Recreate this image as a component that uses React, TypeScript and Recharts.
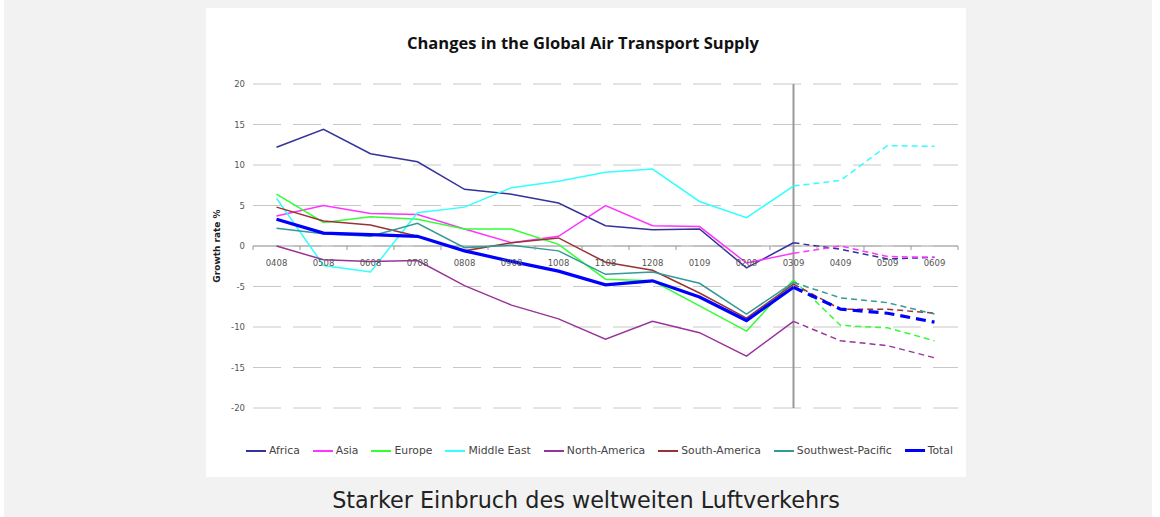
import {
    LineChart,
    Line,
    XAxis,
    YAxis,
    CartesianGrid,
    ReferenceLine,
    Legend,
    Label
} from "recharts";

// months on the category axis, 0309 is the last actual value, rest is forecast
const months = ["0408", "0508", "0608", "0708", "0808", "0908", "1008", "1108", "1208", "0109", "0209", "0309", "0409", "0509", "0609"];
const splitMonth = "0309";
const yTicks = [-20, -15, -10, -5, 0, 5, 10, 15, 20];

const africa = [12.2, 14.4, 11.4, 10.4, 7.0, 6.4, 5.3, 2.5, 2.0, 2.1, -2.7, 0.4, -0.4, -1.6, -1.4];
const asia = [3.7, 5.0, 4.0, 3.9, 2.1, 0.4, 1.2, 5.0, 2.5, 2.4, -2.1, -0.9, 0.0, -1.3, -1.4];
const europe = [6.4, 2.9, 3.6, 3.3, 2.1, 2.1, 0.2, -4.1, -4.3, -7.4, -10.5, -4.2, -9.8, -10.1, -11.7];
const middleEast = [5.9, -2.4, -3.2, 4.1, 4.8, 7.2, 8.0, 9.1, 9.5, 5.5, 3.5, 7.4, 8.1, 12.4, 12.3];
const northAmerica = [0.0, -1.7, -1.9, -1.8, -4.9, -7.3, -9.0, -11.5, -9.3, -10.7, -13.6, -9.3, -11.7, -12.3, -13.8];
const southAmerica = [4.8, 3.1, 2.6, 1.2, -0.6, 0.4, 1.0, -2.0, -3.0, -5.8, -8.9, -4.7, -7.8, -7.8, -8.3];
const swPacific = [2.2, 1.5, 1.2, 2.8, -0.2, 0.1, -0.6, -3.5, -3.2, -4.6, -8.4, -4.5, -6.4, -7.0, -8.4];
const total = [3.3, 1.6, 1.4, 1.2, -0.6, -1.9, -3.1, -4.8, -4.3, -6.3, -9.2, -5.1, -7.8, -8.3, -9.4];

const series = [
    {key: "africa", name: "Africa", values: africa, color: "#333399", width: 1.5},
    {key: "asia", name: "Asia", values: asia, color: "#ff33ff", width: 1.5},
    {key: "europe", name: "Europe", values: europe, color: "#33ff33", width: 1.5},
    {key: "middleEast", name: "Middle East", values: middleEast, color: "#33ffff", width: 1.5},
    {key: "northAmerica", name: "North-America", values: northAmerica, color: "#993399", width: 1.5},
    {key: "southAmerica", name: "South-America", values: southAmerica, color: "#993333", width: 1.5},
    {key: "swPacific", name: "Southwest-Pacific", values: swPacific, color: "#339999", width: 1.5},
    {key: "total", name: "Total", values: total, color: "#0000ff", width: 3.2},
];

const splitIndex = months.indexOf(splitMonth);
const data = months.map((m, i) => {
    const row: any = {month: m};
    series.forEach(s => {
        if (i <= splitIndex) row[s.key] = s.values[i];
        if (i >= splitIndex) row[s.key + "_f"] = s.values[i];
    });
    return row;
});

const W = 760;
const H = 469;
const X_AXIS_H = 1;
const M = {top: 76, right: 8, bottom: 68, left: 0};
const Y_AXIS_W = 47;
const PLOT_H = H - M.top - M.bottom - X_AXIS_H;
const BAND = (W - M.left - Y_AXIS_W - M.right) / months.length;
const FONT = "'DejaVu Sans', sans-serif";

// category labels sit under the zero line, like the excel original
function MonthTick({x, y, payload, index}: any) {
    const y0 = y - PLOT_H / 2;
    return (
        <g>
            <line x1={x - BAND / 2} x2={x - BAND / 2} y1={y0} y2={y0 + 4} stroke="#999"/>
            {index === months.length - 1 &&
                <line x1={x + BAND / 2} x2={x + BAND / 2} y1={y0} y2={y0 + 4} stroke="#999"/>}
            <text x={x} y={y0 + 20} textAnchor="middle" fontSize={8.5} fill="#555" fontFamily={FONT}>
                {payload.value}
            </text>
        </g>
    );
}

function LegendRow({payload}: any) {
    const items = (payload || []).filter((p: any) => p.type !== "none" && !String(p.dataKey).endsWith("_f"));
    return (
        <div style={{display: "flex", justifyContent: "center", fontFamily: FONT, fontSize: 10.8, color: "#444", whiteSpace: "nowrap", paddingLeft: 40}}>
            {items.map((p: any) => {
                const s = series.find(s => s.key === p.dataKey);
                return (
                    <div key={p.value} style={{display: "flex", alignItems: "center", marginRight: 13}}>
                        <span style={{
                            display: "inline-block",
                            width: 20,
                            height: s && s.width > 2 ? 3 : 2,
                            background: p.color,
                            marginRight: 3
                        }}/>
                        <span>{p.value}</span>
                    </div>
                );
            })}
        </div>
    );
}

export default function App() {
    return (
        <div style={{position: "absolute", left: 4, top: 0, width: 1148, height: 517, background: "#f2f2f2"}}>
            <div style={{position: "absolute", left: 202, top: 8, width: W, height: H, background: "#fff"}}>
                <div style={{
                    position: "absolute",
                    top: 24,
                    width: W - 6,
                    textAlign: "center",
                    fontFamily: "'Open Sans', sans-serif",
                    fontWeight: 700,
                    fontSize: 16.5,
                    lineHeight: "22px",
                    color: "#111"
                }}>
                    Changes in the Global Air Transport Supply
                </div>
                <LineChart width={W} height={H} data={data} margin={M}>
                    <CartesianGrid vertical={false} stroke="#c8c8c8" strokeDasharray="28 12"/>
                    <XAxis dataKey="month" interval={0} axisLine={false} tickLine={false} height={X_AXIS_H}
                           padding={{left: BAND / 2, right: BAND / 2}}
                           tickSize={0} tickMargin={0} tick={<MonthTick/>}/>
                    <YAxis domain={[-20, 20]} ticks={yTicks} width={Y_AXIS_W} axisLine={false} tickLine={false}
                           tick={{fontSize: 8.5, fill: "#555", fontFamily: FONT}}>
                        <Label value="Growth rate %" angle={-90} position="insideLeft" offset={11}
                               style={{textAnchor: "middle", fontSize: 9, fontWeight: 700, fill: "#222", fontFamily: FONT}}/>
                    </YAxis>
                    <ReferenceLine y={0} stroke="#a0a0a0" strokeWidth={1}/>
                    <ReferenceLine x={splitMonth} stroke="#999" strokeWidth={2}/>
                    {series.map(s => (
                        <Line key={s.key} type="linear" dataKey={s.key} name={s.name} stroke={s.color}
                              strokeWidth={s.width} dot={false} isAnimationActive={false}/>
                    ))}
                    {series.map(s => (
                        <Line key={s.key + "_f"} type="linear" dataKey={s.key + "_f"} stroke={s.color}
                              strokeWidth={s.width} strokeDasharray={s.width > 2 ? "10 6" : "6 4"}
                              dot={false} legendType="none" isAnimationActive={false}/>
                    ))}
                    <Legend layout="horizontal" verticalAlign="middle" align="center" content={<LegendRow/>}
                            wrapperStyle={{top: 436, left: 0, width: W}}/>
                </LineChart>
            </div>
            <div style={{
                position: "absolute",
                left: 202,
                top: 486,
                width: W,
                textAlign: "center",
                fontFamily: FONT,
                fontSize: 22.3,
                lineHeight: "28px",
                color: "#222"
            }}>
                Starker Einbruch des weltweiten Luftverkehrs
            </div>
        </div>
    );
}
